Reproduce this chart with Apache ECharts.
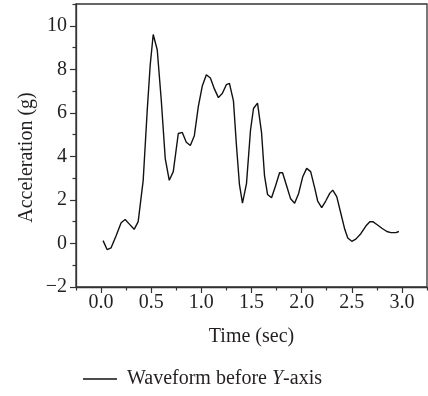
<!DOCTYPE html>
<html>
<head>
<meta charset="utf-8">
<script src="https://cdn.jsdelivr.net/npm/echarts@6/dist/echarts.min.js"></script>
<style>html,body{margin:0;padding:0;background:#fff}#c{width:428px;height:396px}</style>
</head>
<body>
<div id="c"></div>
<script>
var timeSec = [0.02,0.06,0.10,0.15,0.20,0.24,0.28,0.33,0.37,0.42,0.46,0.49,0.52,0.56,0.60,0.64,0.68,0.72,0.77,0.81,0.85,0.89,0.93,0.97,1.01,1.05,1.09,1.13,1.17,1.21,1.25,1.28,1.32,1.35,1.38,1.41,1.45,1.49,1.52,1.56,1.60,1.63,1.66,1.70,1.74,1.78,1.81,1.85,1.89,1.93,1.97,2.01,2.05,2.09,2.13,2.16,2.20,2.24,2.28,2.31,2.35,2.39,2.43,2.46,2.50,2.54,2.59,2.64,2.68,2.71,2.75,2.80,2.85,2.89,2.94,2.97];
var accel = [0.13,-0.28,-0.2,0.35,0.95,1.1,0.9,0.65,1.0,2.9,6.1,8.2,9.6,8.9,6.6,3.9,2.9,3.3,5.05,5.1,4.65,4.5,4.95,6.3,7.25,7.75,7.6,7.1,6.7,6.9,7.3,7.35,6.55,4.5,2.7,1.85,2.75,5.2,6.2,6.45,5.1,3.1,2.25,2.1,2.65,3.25,3.25,2.65,2.05,1.85,2.3,3.05,3.45,3.3,2.55,1.95,1.65,1.95,2.3,2.45,2.15,1.4,0.65,0.25,0.1,0.2,0.45,0.8,1.0,1.0,0.87,0.7,0.55,0.5,0.5,0.55];
var xMajorTicks = [0, 0.5, 1.0, 1.5, 2.0, 2.5, 3.0];
var xMinorTicks = [-0.25, 0.25, 0.75, 1.25, 1.75, 2.25, 2.75, 3.25];
var yMajorTicks = [-2, 0, 2, 4, 6, 8, 10];
var yMinorTicks = [-1, 1, 3, 5, 7, 9, 11];
var seriesName = 'Waveform before Y-axis';

var FONT = 'Liberation Serif';
var TXT = '#231f20';
var chart = echarts.init(document.getElementById('c'));
var pts = timeSec.map(function(t, i){ return [t, accel[i]]; });
chart.setOption({
  animation: false,
  grid: {left: 76, top: 4, right: 1, bottom: 109, show: true, borderColor: '#333', borderWidth: 1.3, backgroundColor: 'transparent'},
  xAxis: [{
    type: 'value', min: -0.25, max: 3.25, position: 'bottom',
    name: 'Time (sec)', nameLocation: 'middle', nameGap: 40,
    nameTextStyle: {fontFamily: FONT, fontSize: 20, color: TXT},
    axisLine: {show: true, onZero: false, lineStyle: {color: '#333', width: 1.3}},
    axisTick: {show: true, inside: false, length: 6, customValues: xMajorTicks, lineStyle: {color: '#333', width: 1.2}},
    axisLabel: {customValues: xMajorTicks, margin: 6, fontFamily: FONT, fontSize: 20, color: TXT,
      formatter: function(v){ return v.toFixed(1); }},
    splitLine: {show: false}
  }, {
    type: 'value', min: -0.25, max: 3.25, position: 'bottom', offset: 0,
    axisLine: {show: false, onZero: false},
    axisTick: {show: true, length: 3.5, customValues: xMinorTicks, lineStyle: {color: '#333', width: 1.2}},
    axisLabel: {show: false}, splitLine: {show: false}
  }],
  yAxis: [{
    type: 'value', min: -2, max: 11, position: 'left',
    axisLine: {show: true, onZero: false, lineStyle: {color: '#333', width: 1.3}},
    axisTick: {show: true, length: 6, customValues: yMajorTicks, lineStyle: {color: '#333', width: 1.2}},
    axisLabel: {customValues: yMajorTicks, margin: 9, fontFamily: FONT, fontSize: 20, color: TXT,
      formatter: function(v){ return String(v).replace('-', '\u2212'); }},
    splitLine: {show: false}
  }, {
    type: 'value', min: -2, max: 11, position: 'left', offset: 0,
    axisLine: {show: false, onZero: false},
    axisTick: {show: true, length: 3.5, customValues: yMinorTicks, lineStyle: {color: '#333', width: 1.2}},
    axisLabel: {show: false}, splitLine: {show: false}
  }],
  legend: {
    left: 78, top: 364, itemWidth: 34, itemHeight: 1.6, icon: 'rect', itemGap: 10,
    data: [seriesName],
    formatter: function(){ return '{n|Waveform before }{i|Y}{n|-axis}'; },
    textStyle: {padding: [0, 0, 0, 5], rich: {
      n: {fontFamily: FONT, fontSize: 20, color: TXT},
      i: {fontFamily: FONT, fontSize: 20, color: TXT, fontStyle: 'italic'}
    }}
  },
  graphic: [{
    type: 'text', x: 27, y: 157.5, rotation: Math.PI / 2,
    style: {text: 'Acceleration (g)', fontFamily: FONT, fontSize: 20, fill: TXT, align: 'center', verticalAlign: 'middle'}
  }],
  series: [{
    name: seriesName, type: 'line', data: pts, showSymbol: false, symbol: 'none',
    xAxisIndex: 0, yAxisIndex: 0,
    lineStyle: {color: '#111', width: 1.4}, itemStyle: {color: '#111'}
  }]
});
</script>
</body>
</html>
